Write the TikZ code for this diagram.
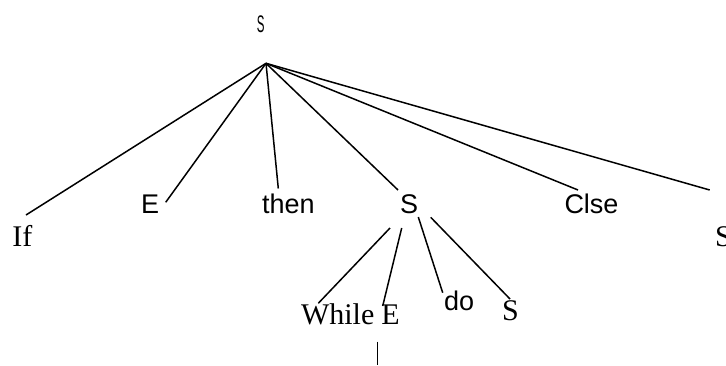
\documentclass[tikz,border=0pt]{standalone}
\usepackage{fontspec}
\usepackage{graphicx}
\setmainfont{Liberation Serif}
\newfontfamily\arialf{Liberation Sans}
\tikzset{
  serif/.style={inner sep=0pt, outer sep=0pt, anchor=base west, font=\fontsize{30}{30}\selectfont},
  sans/.style={inner sep=0pt, outer sep=0pt, anchor=base west, font=\arialf\fontsize{27}{27}\selectfont},
  edge/.style={line width=1.5pt, black},
}
\begin{document}
\begin{tikzpicture}[x=1pt,y=-1pt]
\useasboundingbox (0,0) rectangle (726,365);
% labels
\node[inner sep=0pt, anchor=base, font=\arialf\fontsize{24}{24}\selectfont] (top) at (260.7,32.5) {\scalebox{0.48}[1]{S}};
\node[serif] (if) at (12.5,246.7) {If};
\node[sans] (e) at (141,213.3) {E};
\node[sans] (then) at (262,213.3) {then};
\node[sans] (smid) at (400,213.3) {S};
\node[sans] (clse) at (564.5,213.3) {Clse};
\node[serif] (sr) at (715,246.7) {S};
\node[serif] (while) at (301,324) {While};
\node[serif] (e2) at (381.3,324) {E};
\node[sans] (do) at (444,310.7) {do};
\node[serif] (slow) at (502,320) {S};
% connector end points
\coordinate (root) at (266,63.3);
\coordinate (ifend) at (26,215);
\coordinate (eend) at (165.7,202.3);
\coordinate (thenend) at (278.3,188.5);
\coordinate (smidend) at (398,190);
\coordinate (clseend) at (578,190);
\coordinate (srend) at (709.7,190);
\coordinate (sa) at (390,228);
\coordinate (whileend) at (318.3,303.3);
\coordinate (sb) at (401.7,228);
\coordinate (e2end) at (382.7,306);
\coordinate (sc) at (418.3,217);
\coordinate (doend) at (442.7,292.7);
\coordinate (sd) at (430.7,217.3);
\coordinate (slowend) at (510,299);
\coordinate (vtop) at (377.3,341.7);
\coordinate (vbot) at (377.3,365);
% connectors
\draw[edge] (root) -- (ifend);
\draw[edge] (root) -- (eend);
\draw[edge] (root) -- (thenend);
\draw[edge] (root) -- (smidend);
\draw[edge] (root) -- (clseend);
\draw[edge] (root) -- (srend);
\draw[edge] (sa) -- (whileend);
\draw[edge] (sb) -- (e2end);
\draw[edge] (sc) -- (doend);
\draw[edge] (sd) -- (slowend);
\draw[line width=1.1pt] (vtop) -- (vbot);
\end{tikzpicture}
\end{document}
